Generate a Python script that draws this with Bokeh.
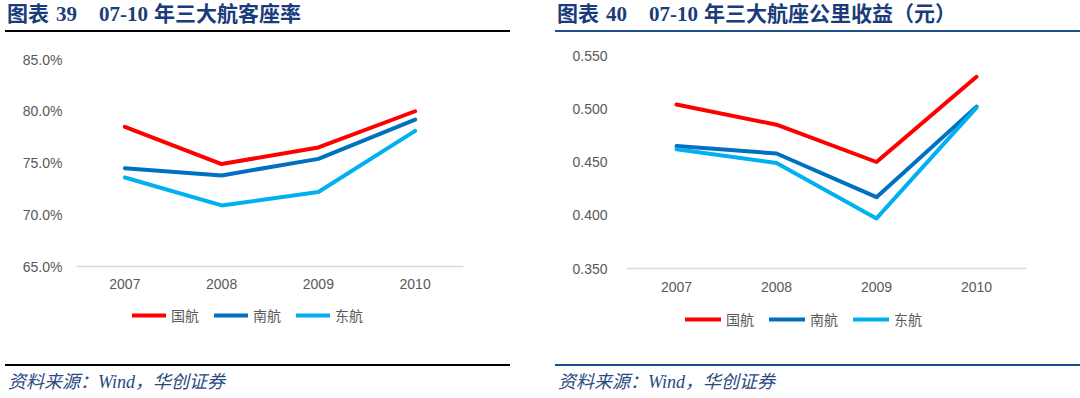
from bokeh.plotting import figure
from bokeh.layouts import row, column
from bokeh.models import Div, FactorRange, Range1d, FixedTicker, Legend, LegendItem
from bokeh.embed import file_html
from bokeh.resources import INLINE

# ---------------- data ----------------
years = ["2007", "2008", "2009", "2010"]
airlines = ["国航", "南航", "东航"]
colors = ["#FF0000", "#0070C0", "#00B0F0"]

# 图表39 客座率 (%)
load_air_china = [78.5, 74.9, 76.5, 80.0]
load_china_southern = [74.5, 73.8, 75.4, 79.2]
load_china_eastern = [73.6, 70.9, 72.2, 78.1]
load_ticks = [65, 70, 75, 80, 85]
load_tick_labels = ["65.0%", "70.0%", "75.0%", "80.0%", "85.0%"]

# 图表40 座公里收益 (元)
yield_air_china = [0.504, 0.485, 0.450, 0.530]
yield_china_southern = [0.465, 0.458, 0.417, 0.502]
yield_china_eastern = [0.462, 0.449, 0.397, 0.501]
yield_ticks = [0.35, 0.40, 0.45, 0.50, 0.55]
yield_tick_labels = ["0.350", "0.400", "0.450", "0.500", "0.550"]

title_left = ["图表", "39", "07-10", "年三大航客座率"]
title_right = ["图表", "40", "07-10", "年三大航座公里收益（元）"]
source_text = "资料来源：Wind，华创证券"

TICK_COLOR = "#595959"
NAVY = "#1B3C7A"

FIG_TOP = 33      # page y where the chart figures begin
FIG_H = 327       # chart figure height
FRAME_BOTTOM = FIG_TOP + FIG_H   # x axis is pinned inside, so frame fills down


def make_chart(series, ticks, tick_labels, fig_left, width, mb, axis_px, legend_px,
               glyph_w, ystandoff, xstandoff):
    """axis_px: (page y of lowest tick, page y of highest tick);
    legend_px: (page x of legend start, page y of legend bottom)."""
    lo, hi = ticks[0], ticks[-1]
    per_px = (hi - lo) / (axis_px[0] - axis_px[1])
    y_start = lo - (FRAME_BOTTOM - axis_px[0]) * per_px
    p = figure(x_range=FactorRange(*years), y_range=Range1d(y_start, hi),
               width=width, height=FIG_H, output_backend="svg",
               toolbar_location=None, title=None,
               min_border_left=mb[0], min_border_right=mb[1],
               min_border_top=axis_px[1] - FIG_TOP, min_border_bottom=0)
    p.outline_line_color = None
    p.xgrid.visible = False
    p.ygrid.visible = False
    p.background_fill_color = "white"
    p.border_fill_color = "white"

    renderers = []
    for vals, c in zip(series, colors):
        r = p.line(years, vals, line_color=c, line_width=4,
                   line_cap="round", line_join="round")
        renderers.append(r)

    p.yaxis.ticker = FixedTicker(ticks=ticks)
    p.yaxis.major_label_overrides = {t: l for t, l in zip(ticks, tick_labels)}
    p.yaxis.axis_line_color = None
    p.yaxis.major_tick_line_color = None
    p.yaxis.minor_tick_line_color = None
    p.yaxis.major_label_standoff = ystandoff
    p.xaxis.fixed_location = lo
    p.xaxis.axis_line_color = "#D9D9D9"
    p.xaxis.axis_line_width = 1.5
    p.xaxis.major_tick_line_color = None
    p.xaxis.minor_tick_line_color = None
    p.xaxis.major_tick_out = 0
    p.yaxis.major_tick_out = 0
    p.xaxis.major_label_standoff = xstandoff
    for ax in (p.xaxis, p.yaxis):
        ax.major_label_text_font = "Liberation Sans"
        ax.major_label_text_font_size = "14px"
        ax.major_label_text_color = TICK_COLOR

    items = [LegendItem(label=n, renderers=[r]) for n, r in zip(airlines, renderers)]
    legend = Legend(items=items,
                    location=(legend_px[0] - fig_left - mb[0],
                              FRAME_BOTTOM - legend_px[1]),
                    orientation="horizontal",
                    glyph_width=glyph_w, glyph_height=18, label_height=18,
                    label_standoff=5, spacing=15, padding=0, margin=0,
                    border_line_color=None, background_fill_alpha=0,
                    label_text_font="Noto Sans CJK SC",
                    label_text_font_size="14px", label_text_color=TICK_COLOR)
    p.add_layout(legend, "center")
    return p


def title_div(parts, left, inner_w, rule_color):
    html = (
        f'<div style="margin-left:{left}px;width:{inner_w}px;height:30px;'
        f'border-bottom:2px solid {rule_color};white-space:nowrap;padding-left:2px;'
        f'box-sizing:content-box;'
        f"font-family:'Liberation Serif','Noto Sans CJK SC',serif;font-weight:bold;"
        f'font-size:21px;line-height:29px;color:{NAVY};">'
        f'{parts[0]}'
        f'<span style="margin-left:7px">{parts[1]}</span>'
        f'<span style="margin-left:22px">{parts[2]}</span>'
        f'<span style="margin-left:6px">{parts[3]}</span></div>'
    )
    return Div(text=html, width=540, height=FIG_TOP, margin=0)


def footer_div(left, inner_w, rule_color):
    html = (
        f'<div style="margin-left:{left}px;margin-top:4px;width:{inner_w}px;'
        f'border-top:2px solid {rule_color};padding-top:7px;padding-left:3px;'
        f'white-space:nowrap;'
        f"font-family:'Liberation Serif','Noto Sans CJK SC',serif;font-style:italic;"
        f'font-size:18px;line-height:18px;color:#2B4A80;">{source_text}</div>'
    )
    return Div(text=html, width=540, height=398 - FIG_TOP - FIG_H, margin=0)


left_chart = make_chart([load_air_china, load_china_southern, load_china_eastern],
                        load_ticks, load_tick_labels, 0, 540, (76, 77),
                        (266, 59), (132, 325), 34, 14, 12)
right_chart = make_chart([yield_air_china, yield_china_southern, yield_china_eastern],
                         yield_ticks, yield_tick_labels, 540, 540, (86, 54),
                         (268, 55), (685, 329), 36, 19, 13)

left = column(title_div(title_left, 5, 503, "#000000"), left_chart,
              footer_div(5, 505, "#000000"), spacing=0)
right = column(title_div(title_right, 15, 523, "#1F4E8C"), right_chart,
               footer_div(15, 525, "#1F4E8C"), spacing=0)
layout = row(left, right, spacing=0)

open("out.html", "w").write(file_html(layout, INLINE))
